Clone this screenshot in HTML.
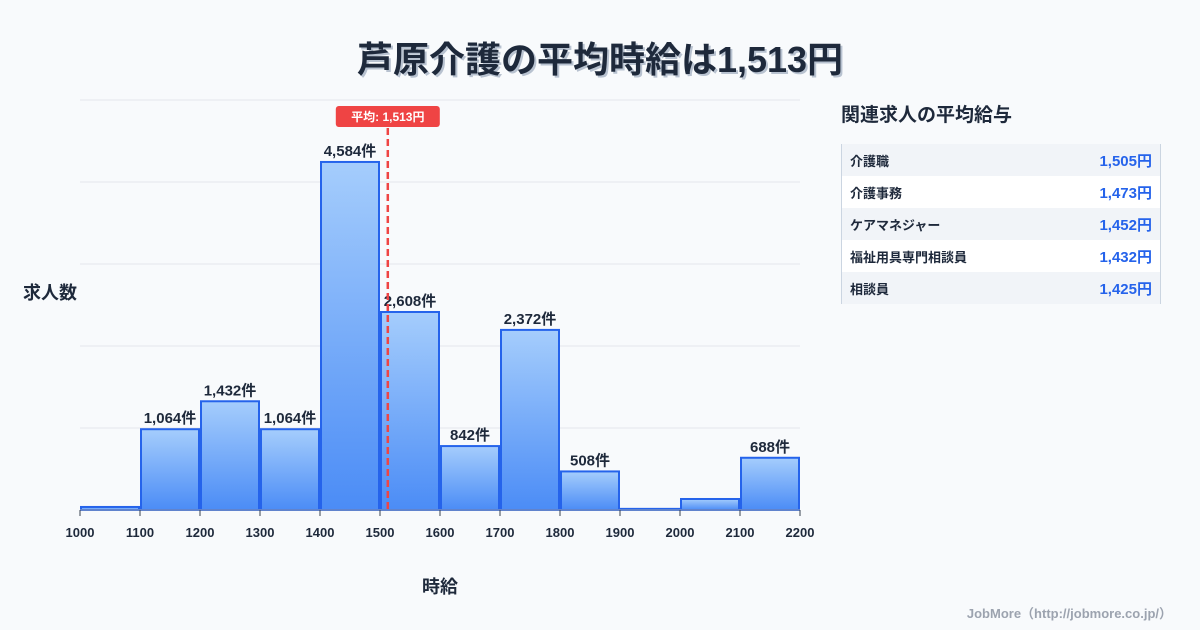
<!DOCTYPE html>
<html><head><meta charset="utf-8">
<style>
body{margin:0;width:1200px;height:630px;background:#f8fafc;font-family:"Liberation Sans","Noto Sans CJK JP",sans-serif;overflow:hidden;position:relative;color:#1f2937}
.title{position:absolute;top:31px;left:0;width:1200px;text-align:center;font-size:36px;font-weight:bold;color:#1e293b;text-shadow:2px 2px 0 #b8c2d0}
.side{position:absolute;left:841px;top:100px;width:320px}
.side h3{margin:0 0 0 0;font-size:19px;font-weight:bold;color:#1e293b;height:44px;line-height:32px}
table{border-collapse:collapse;width:320px;border-left:1px solid #cbd5e1;border-right:1px solid #cbd5e1}
td{height:32px;font-size:13px;font-weight:bold;padding:0 8px;color:#1e293b}
td.v{text-align:right;color:#2563eb;font-size:15px}
tr:nth-child(odd){background:#f1f4f8}tr:nth-child(even){background:#fff}
.foot{position:absolute;right:28px;top:603px;font-size:13px;color:#9ca3af;font-weight:bold}
</style></head><body>
<div class="title">芦原介護の平均時給は1,513円</div>
<svg id="chart" width="830" height="630" style="position:absolute;left:0;top:0">
<defs><linearGradient id="g" x1="0" y1="0" x2="0" y2="1"><stop offset="0" stop-color="#a5cdfc"/><stop offset="1" stop-color="#4b8cf6"/></linearGradient></defs>
</svg>
<div class="side">
<h3>関連求人の平均給与</h3>
<table>
<tr><td>介護職</td><td class="v">1,505円</td></tr>
<tr><td>介護事務</td><td class="v">1,473円</td></tr>
<tr><td>ケアマネジャー</td><td class="v">1,452円</td></tr>
<tr><td>福祉用具専門相談員</td><td class="v">1,432円</td></tr>
<tr><td>相談員</td><td class="v">1,425円</td></tr>
</table></div>
<div class="foot">JobMore（http://jobmore.co.jp/）</div>
<script>
const binStarts=[1000,1100,1200,1300,1400,1500,1600,1700,1800,1900,2000,2100];
const counts=[40,1064,1432,1064,4584,2608,842,2372,508,15,145,688];
const labeled=[false,true,true,true,true,true,true,true,true,false,false,true];
const xTicks=[1000,1100,1200,1300,1400,1500,1600,1700,1800,1900,2000,2100,2200];
const avg=1513;
const svg=document.getElementById('chart');
const NS='http://www.w3.org/2000/svg';
const X=v=>80+(v-1000)*0.6;
const Y=v=>510-v*(410/5400);
function mk(t,a,txt){const e=document.createElementNS(NS,t);for(const k in a)e.setAttribute(k,a[k]);if(txt!=null)e.textContent=txt;svg.appendChild(e);return e;}
for(let i=0;i<=5;i++){const g=mk('line',{x1:80,x2:800,y1:Y(i*1080),y2:Y(i*1080),stroke:'#e5e7eb','stroke-width':1});

}
binStarts.forEach((b,i)=>{
 const x=X(b)+1,w=X(b+100)-X(b)-2,y=Y(counts[i]),h=510-y;
 const r=mk('rect',{x:x,y:y,width:w,height:Math.max(h,1),fill:'url(#g)',stroke:'#2563eb','stroke-width':2});
 
 
 if(labeled[i]){const t=mk('text',{x:X(b+50),y:y-6,'text-anchor':'middle','font-size':15,'font-weight':'bold',fill:'#1e293b'},counts[i].toLocaleString('en-US')+'件');
 
 }
});
const ax=mk('line',{x1:80,x2:800,y1:510,y2:510,stroke:'#9ca3af','stroke-width':1});


xTicks.forEach(v=>{
 const l=mk('line',{x1:X(v),x2:X(v),y1:510,y2:516,stroke:'#374151','stroke-width':1});
 
 
 const t=mk('text',{x:X(v),y:537,'text-anchor':'middle','font-size':13,'font-weight':'bold',fill:'#1e293b'},v);
 
 
});
const al=mk('line',{x1:X(avg),x2:X(avg),y1:128,y2:510,stroke:'#ef4444','stroke-width':2.5,'stroke-dasharray':'7,4'});


const ab=mk('rect',{x:X(avg)-52,y:106,width:104,height:21,rx:3,fill:'#ef4444'});


const at=mk('text',{x:X(avg),y:121,'text-anchor':'middle','font-size':12,'font-weight':'bold',fill:'#fff'},'平均: '+avg.toLocaleString('en-US')+'円');


const yt=mk('text',{x:50,y:299,'text-anchor':'middle','font-size':18,'font-weight':'bold',fill:'#1e293b'},'求人数');


const xt=mk('text',{x:440,y:593,'text-anchor':'middle','font-size':18,'font-weight':'bold',fill:'#1e293b'},'時給');


</script>
</body></html>
